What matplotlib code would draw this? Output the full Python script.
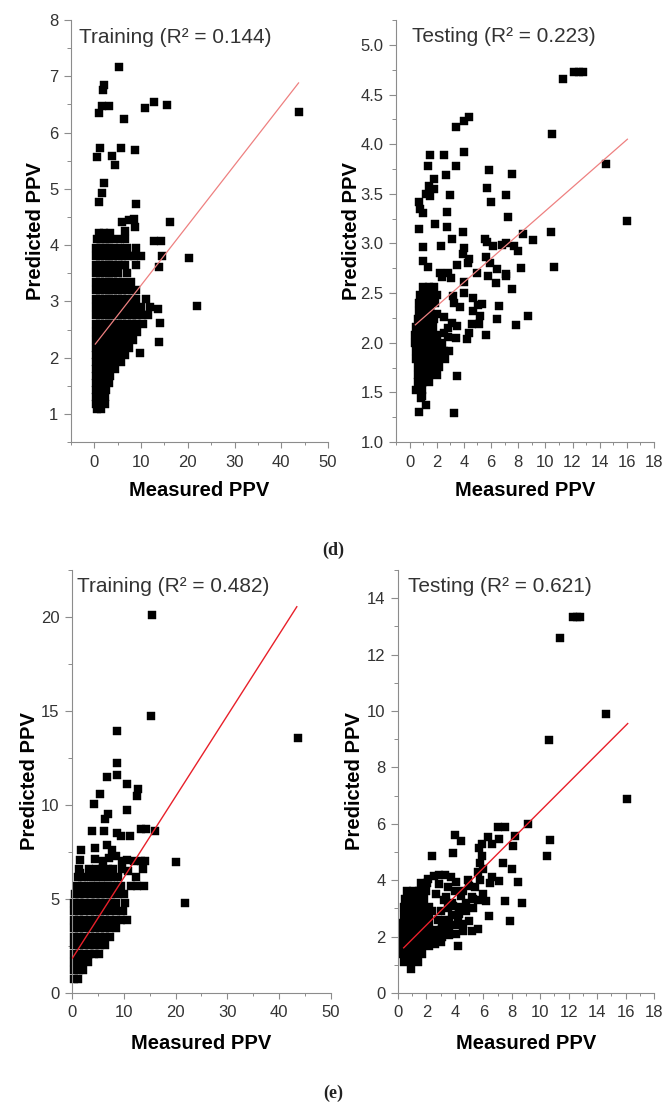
import matplotlib
matplotlib.use('Agg')
import matplotlib.pyplot as plt
from matplotlib.ticker import MultipleLocator, FormatStrFormatter

plt.rcParams['font.family'] = ['Liberation Sans', 'DejaVu Sans']

# ---------------- Panel (d) left: Training, R2 = 0.144 ----------------
tr1_row_pred = [1.08, 1.18, 1.30, 1.42, 1.55, 1.68, 1.80, 1.92, 2.05, 2.18, 2.32, 2.45,
                2.60, 2.75, 2.90, 3.05, 3.20, 3.35, 3.50, 3.65, 3.80, 3.95, 4.10, 4.22]
tr1_row_meas = [
    [0.5, 1.4],
    [0.4, 1.3, 2.2],
    [0.4, 1.3, 2.3],
    [0.4, 1.3, 2.4],
    [0.4, 1.3, 2.3, 3.1],
    [0.4, 1.3, 2.2, 3.4],
    [0.4, 1.3, 2.2, 3.1, 4.5],
    [0.4, 1.3, 2.2, 3.1, 4.0, 5.6],
    [0.4, 1.3, 2.2, 3.1, 4.0, 5.0, 6.6],
    [0.4, 1.3, 2.2, 3.1, 4.0, 5.0, 6.2, 7.4],
    [0.4, 1.3, 2.2, 3.1, 4.0, 5.0, 6.0, 7.0, 8.2],
    [0.4, 1.3, 2.2, 3.1, 4.0, 5.0, 6.0, 7.0, 8.1, 9.2],
    [0.4, 1.3, 2.2, 3.1, 4.0, 5.0, 6.0, 7.0, 8.0, 9.2, 10.4],
    [0.4, 1.3, 2.2, 3.1, 4.0, 5.0, 6.0, 7.0, 8.0, 9.0, 10.2, 11.4],
    [0.4, 1.3, 2.2, 3.1, 4.0, 5.0, 6.0, 7.0, 8.0, 9.0, 10.0, 11.8],
    [0.4, 1.3, 2.2, 3.1, 4.0, 5.0, 6.0, 7.0, 8.0, 9.0, 11.0],
    [0.4, 1.3, 2.2, 3.1, 4.0, 5.0, 6.0, 7.2, 9.0],
    [0.4, 1.3, 2.2, 3.1, 4.0, 5.0, 6.2, 7.8],
    [0.4, 1.3, 2.2, 3.1, 4.0, 5.0, 7.0],
    [0.4, 1.3, 2.2, 3.1, 4.0, 5.2, 6.6, 9.0],
    [0.4, 1.3, 2.2, 3.1, 4.0, 5.0, 6.0, 7.2, 8.4, 10.0],
    [0.4, 1.3, 2.2, 3.1, 4.2, 5.5, 7.0, 9.0],
    [0.6, 1.5, 2.4, 3.3, 5.0, 6.6],
    [1.0, 2.0, 3.4],
]
tr1_out_meas = [5.3, 2.0, 1.8, 1.6, 1.0, 3.1, 6.3, 10.9, 12.7, 15.5, 43.8, 1.1, 0.6, 3.8,
                4.5, 5.6, 8.8, 2.1, 1.6, 0.9, 8.9, 6.0, 8.4, 8.6, 16.2, 20.3, 21.9, 12.7,
                14.3, 13.9, 14.4, 13.7, 14.0, 13.9, 9.8, 7.5, 6.5]
tr1_out_pred = [7.17, 6.85, 6.75, 6.48, 6.35, 6.48, 6.24, 6.43, 6.55, 6.49, 6.36, 5.73,
                5.57, 5.58, 5.43, 5.73, 5.69, 5.10, 4.92, 4.77, 4.73, 4.41, 4.47, 4.33,
                4.41, 3.77, 2.91, 4.08, 4.07, 3.61, 3.80, 2.87, 2.61, 2.27, 2.08, 4.45, 4.25]
tr1_fit = (0.1067, 2.22, 0.2, 43.7)   # slope, intercept, x-start, x-end

# ---------------- Panel (d) right: Testing, R2 = 0.223 ----------------
te1_meas = [11.3, 12.1, 12.5, 12.8, 10.5, 14.5, 16.0, 10.4, 10.6, 9.06, 8.37, 7.71, 8.0,
            8.18, 7.52, 7.08, 7.27, 7.08, 7.08, 7.52, 8.70, 7.84, 6.61, 6.41, 5.63,
            3.40, 4.04, 4.41, 3.98, 1.52, 2.50, 1.32, 3.40, 2.70, 1.80, 5.85, 5.73, 5.97,
            1.40, 1.77, 1.52, 1.20, 2.99, 0.66, 0.98, 0.80, 2.74, 0.66, 1.89, 2.74, 3.92,
            0.98, 2.30, 3.11, 0.98, 1.32, 3.98, 3.92, 4.41, 4.29, 3.48, 4.99, 5.55, 5.73,
            6.12, 6.78, 5.63, 5.93, 5.80, 6.41, 7.10, 6.36, 2.25, 2.86, 2.37, 3.04, 3.98,
            3.98, 3.18, 3.30, 3.73, 4.70, 5.02, 5.36, 5.19, 4.70, 4.58, 4.34, 4.21, 5.14,
            2.50, 2.00, 1.52, 3.11, 2.82, 2.50, 2.86, 3.52, 3.43, 3.48, 3.28, 0.66, 0.66,
            0.81, 1.18, 0.93]
te1_pred = [4.66, 4.73, 4.73, 4.73, 4.10, 3.80, 3.23, 3.12, 2.76, 3.03, 3.10, 2.97, 2.92,
            2.75, 3.70, 3.49, 3.27, 3.00, 2.67, 2.54, 2.27, 2.18, 2.37, 2.24, 2.08,
            4.17, 4.23, 4.27, 3.92, 3.89, 3.89, 3.78, 3.78, 3.69, 3.65, 3.74, 3.56, 3.42,
            3.58, 3.55, 3.48, 3.50, 3.49, 3.42, 3.31, 3.35, 3.32, 3.15, 3.20, 3.17, 3.12,
            2.96, 2.97, 3.05, 2.82, 2.76, 2.95, 2.89, 2.84, 2.80, 2.78, 2.70, 3.05, 3.01,
            2.97, 2.98, 2.86, 2.80, 2.67, 2.74, 2.69, 2.60, 2.70, 2.70, 2.66, 2.65, 2.61,
            2.50, 2.47, 2.40, 2.36, 2.45, 2.38, 2.39, 2.27, 2.32, 2.19, 2.10, 2.04, 2.19,
            2.26, 2.29, 2.34, 2.20, 2.15, 2.10, 2.06, 2.17, 2.05, 1.67, 1.29, 1.30, 1.53,
            1.44, 1.37, 1.46]
te1_row_pred = [1.52, 1.60, 1.68, 1.76, 1.84, 1.92, 2.00, 2.08, 2.16, 2.24, 2.32, 2.40,
                2.48, 2.56]
te1_row_meas = [
    [0.5, 0.9],
    [0.6, 1.0, 1.4],
    [0.6, 1.0, 1.4, 2.0],
    [0.6, 1.0, 1.4, 1.8, 2.2],
    [0.5, 0.9, 1.3, 1.7, 2.1, 2.6],
    [0.5, 0.9, 1.3, 1.7, 2.1, 2.5, 2.9],
    [0.4, 0.8, 1.2, 1.6, 2.0, 2.4],
    [0.4, 0.8, 1.2, 1.6, 2.0],
    [0.5, 0.9, 1.3, 1.7],
    [0.6, 1.0, 1.4, 1.8],
    [0.7, 1.1, 1.5],
    [0.7, 1.1, 1.5, 1.9],
    [0.8, 1.2, 1.6, 2.0],
    [1.0, 1.4, 1.8],
]
te1_fit = (0.1197, 2.13, 0.42, 16.04)

# ---------------- Panel (e) left: Training, R2 = 0.482 ----------------
tr2_row_pred = [0.75, 1.2, 1.65, 2.1, 2.55, 3.0, 3.45, 3.9, 4.35, 4.8, 5.25, 5.7, 6.15, 6.6]
tr2_row_meas = [
    [0.4, 1.2],
    [0.4, 1.3, 2.2],
    [0.4, 1.3, 2.2, 3.1],
    [0.4, 1.3, 2.3, 3.3, 4.3, 5.2],
    [0.4, 1.4, 2.4, 3.4, 4.4, 5.4, 6.4],
    [0.4, 1.4, 2.4, 3.4, 4.4, 5.4, 6.4, 7.4],
    [0.4, 1.4, 2.4, 3.4, 4.4, 5.4, 6.4, 7.4, 8.4],
    [0.4, 1.4, 2.4, 3.4, 4.4, 5.4, 6.4, 7.4, 8.4, 9.4, 10.6],
    [0.4, 1.4, 2.4, 3.4, 4.4, 5.4, 6.4, 7.4, 8.4, 9.8],
    [0.4, 1.4, 2.4, 3.4, 4.4, 5.4, 6.4, 7.4, 8.4, 10.2],
    [0.6, 1.6, 2.6, 3.6, 4.6, 5.6, 6.6, 7.6, 8.8, 10.0],
    [1.0, 2.0, 3.0, 4.0, 5.0, 6.0, 7.0, 8.2, 9.4, 11.4, 12.6],
    [1.2, 2.4, 3.6, 4.6, 5.6, 6.6, 7.6, 8.8, 12.4],
    [1.4, 3.2, 4.6, 5.8, 7.0, 8.0, 9.6, 13.8],
]
tr2_out_meas = [15.5, 15.2, 43.6, 8.75, 8.6, 8.6, 6.7, 10.7, 12.8, 12.5, 5.4, 4.3, 7.0,
                6.4, 10.7, 3.8, 6.2, 8.75, 9.5, 11.2, 13.4, 14.3, 16.0, 20.1, 21.8,
                1.7, 4.4, 6.8, 7.8, 1.55, 4.4, 6.0, 7.2, 8.4, 9.6, 10.6, 12.0, 13.3,
                14.1, 13.97, 1.55, 10.8]
tr2_out_pred = [20.1, 14.73, 13.58, 13.95, 12.25, 11.6, 11.47, 11.1, 10.85, 10.5, 10.6,
                10.03, 9.52, 9.24, 9.76, 8.64, 8.62, 8.5, 8.36, 8.36, 8.7, 8.7, 8.62, 6.95,
                4.77, 7.6, 7.7, 7.87, 7.6, 7.07, 7.13, 7.0, 7.2, 7.3, 7.0, 7.1, 7.0, 7.0,
                7.0, 5.67, 6.36, 6.5]
tr2_fit = (0.4315, 1.82, 0.1, 43.4)

# ---------------- Panel (e) right: Testing, R2 = 0.621 ----------------
te2_meas = [12.3, 12.6, 12.8, 11.4, 14.6, 10.6, 16.1, 9.15, 10.7, 10.5,
            2.1, 2.5, 2.9, 3.3, 3.7, 4.1, 2.9, 3.5,
            4.0, 2.7, 3.4, 4.4, 3.0, 3.5, 3.9, 2.8, 3.3, 3.8, 4.3, 4.8, 5.3, 3.1, 3.6, 4.1,
            4.6, 5.0, 2.6, 3.1, 3.6, 4.1, 4.6, 5.2, 5.6, 4.6, 5.0, 5.2, 5.6, 6.0, 6.2, 6.5,
            6.6, 7.1, 5.8, 5.6, 5.8, 5.9, 6.0, 5.7, 5.9, 6.3, 6.6, 7.0, 7.5, 7.1, 8.2, 8.1,
            4.0, 4.4, 3.9, 2.4, 7.35, 8.0, 8.45, 8.75, 7.5, 7.9, 6.4, 4.2,
            3.2, 3.8, 4.3, 4.8, 5.3, 4.9, 5.4, 3.6, 4.2, 2.6, 3.0, 2.4]
te2_pred = [13.33, 13.33, 13.33, 12.6, 9.88, 8.97, 6.89, 5.98, 5.41, 4.85,
            4.05, 4.15, 4.2, 4.2, 4.1, 3.95, 3.85, 3.75,
            3.6, 3.5, 3.4, 3.45, 2.9, 3.0, 3.1, 2.6, 2.6, 2.75, 2.8, 2.9, 3.0, 2.3, 2.35, 2.4,
            2.45, 2.55, 1.95, 2.0, 2.05, 2.1, 2.2, 2.2, 2.26, 3.6, 3.8, 3.4, 3.3, 3.5, 3.25, 3.9,
            4.1, 3.97, 4.0, 4.3, 4.6, 4.85, 4.4, 5.15, 5.3, 5.52, 5.3, 5.88, 5.88, 5.45, 5.57, 5.2,
            5.62, 5.39, 4.95, 4.86, 4.6, 4.4, 3.92, 3.2, 3.26, 2.57, 2.73, 1.67,
            3.3, 3.2, 3.05, 3.2, 3.35, 4.0, 3.75, 2.55, 2.65, 1.75, 1.8, 2.9]
te2_row_pred = [0.85, 1.10, 1.38, 1.66, 1.94, 2.22, 2.50, 2.78, 3.06, 3.34, 3.62, 3.90]
te2_row_meas = [
    [0.9],
    [0.4, 0.9, 1.4],
    [0.35, 0.8, 1.25, 1.7],
    [0.35, 0.8, 1.25, 1.7, 2.2],
    [0.35, 0.8, 1.25, 1.7, 2.15, 2.6],
    [0.35, 0.8, 1.25, 1.7, 2.15, 2.6, 3.05],
    [0.35, 0.8, 1.25, 1.7, 2.15],
    [0.4, 0.85, 1.3, 1.75, 2.2],
    [0.4, 0.85, 1.3, 1.75, 2.2],
    [0.5, 0.95, 1.4, 1.85],
    [0.6, 1.05, 1.5, 1.95],
    [1.6, 2.05],
]
te2_fit = (0.505, 1.40, 0.4, 16.15)


def flatten_rows(row_pred, row_meas):
    xs, ys = [], []
    for yv, xr in zip(row_pred, row_meas):
        for xv in xr:
            xs.append(xv)
            ys.append(yv)
    return xs, ys


fig = plt.figure(figsize=(6.66, 11.09), dpi=100)

SPINE = '#8c8c8c'
TXT = '#333333'


def style(ax, xlim, ylim, xmaj, xmin, ymaj, ymin, ylab_x, xlab_y):
    ax.set_xlim(*xlim)
    ax.set_ylim(*ylim)
    for s in ['top', 'right']:
        ax.spines[s].set_visible(False)
    for s in ['left', 'bottom']:
        ax.spines[s].set_color(SPINE)
        ax.spines[s].set_linewidth(0.8)
    ax.xaxis.set_major_locator(MultipleLocator(xmaj))
    ax.xaxis.set_minor_locator(MultipleLocator(xmin))
    ax.yaxis.set_major_locator(MultipleLocator(ymaj))
    ax.yaxis.set_minor_locator(MultipleLocator(ymin))
    ax.tick_params(axis='x', which='major', length=4, width=0.8, color=SPINE,
                   labelsize=12, labelcolor=TXT, pad=5)
    ax.tick_params(axis='x', which='minor', length=2.5, width=0.7, color=SPINE)
    ax.tick_params(axis='y', which='major', length=5, width=0.8, color=SPINE,
                   labelsize=12, labelcolor=TXT, pad=4)
    ax.tick_params(axis='y', which='minor', length=3, width=0.7, color=SPINE)
    ax.set_xlabel('Measured PPV', fontsize=14.5, fontweight='bold', color='black')
    ax.set_ylabel('Predicted PPV', fontsize=14.5, fontweight='bold', color='black')
    ax.yaxis.set_label_coords(ylab_x, 0.5)
    ax.xaxis.set_label_coords(0.5, xlab_y)


def draw(ax, xs, ys, fit, lcolor, lw):
    slope, icpt, x0, x1 = fit
    ax.plot([x0, x1], [icpt + slope * x0, icpt + slope * x1], color=lcolor, lw=lw, zorder=3)
    ax.plot(xs, ys, ls='none', marker='s', ms=6.3, mfc='black', mec='black', mew=0.3,
            clip_on=False, zorder=2)


# Panel A
axA = fig.add_axes([0.1066, 0.6014, 0.3859, 0.3805])
ax_, ay_ = flatten_rows(tr1_row_pred, tr1_row_meas)
draw(axA, ax_ + tr1_out_meas, ay_ + tr1_out_pred, tr1_fit, '#ee8080', 0.9)
style(axA, (-5, 50), (0.5, 8), 10, 5, 1, 0.5, -0.103, -0.092)
axA.text(0.03, 0.958, 'Training (R² = 0.144)', transform=axA.transAxes, fontsize=15,
         color=TXT, va='center', ha='left')

# Panel B
axB = fig.add_axes([0.5946, 0.6014, 0.3874, 0.3805])
bx_, by_ = flatten_rows(te1_row_pred, te1_row_meas)
draw(axB, te1_meas + bx_, te1_pred + by_, te1_fit, '#ee8080', 0.9)
style(axB, (-1, 18), (1.0, 5.25), 2, 1, 0.5, 0.25, -0.134, -0.092)
axB.yaxis.set_major_formatter(FormatStrFormatter('%.1f'))
axB.text(0.062, 0.962, 'Testing (R² = 0.223)', transform=axB.transAxes, fontsize=15,
         color=TXT, va='center', ha='left')

# Panel C
axC = fig.add_axes([0.1081, 0.1046, 0.3889, 0.3814])
cx_, cy_ = flatten_rows(tr2_row_pred, tr2_row_meas)
draw(axC, cx_ + tr2_out_meas, cy_ + tr2_out_pred, tr2_fit, '#e8202a', 1.0)
style(axC, (0, 50), (0, 22.5), 10, 5, 5, 2.5, -0.129, -0.097)
axC.text(0.02, 0.96, 'Training (R² = 0.482)', transform=axC.transAxes, fontsize=15,
         color=TXT, va='center', ha='left')

# Panel D
axD = fig.add_axes([0.5976, 0.1046, 0.3844, 0.3814])
dx_, dy_ = flatten_rows(te2_row_pred, te2_row_meas)
draw(axD, te2_meas + dx_, te2_pred + dy_, te2_fit, '#e8202a', 1.0)
style(axD, (0, 18), (0, 15), 2, 1, 2, 1, -0.131, -0.097)
axD.text(0.04, 0.962, 'Testing (R² = 0.621)', transform=axD.transAxes, fontsize=15,
         color=TXT, va='center', ha='left')

fig.text(0.5, 1 - 550 / 1109, '(d)', ha='center', va='center', fontsize=13,
         family=['Liberation Serif', 'DejaVu Serif'], fontweight='bold', color='#222222')
fig.text(0.5, 1 - 1093 / 1109, '(e)', ha='center', va='center', fontsize=13,
         family=['Liberation Serif', 'DejaVu Serif'], fontweight='bold', color='#222222')

fig.savefig('out.png', dpi=100)
